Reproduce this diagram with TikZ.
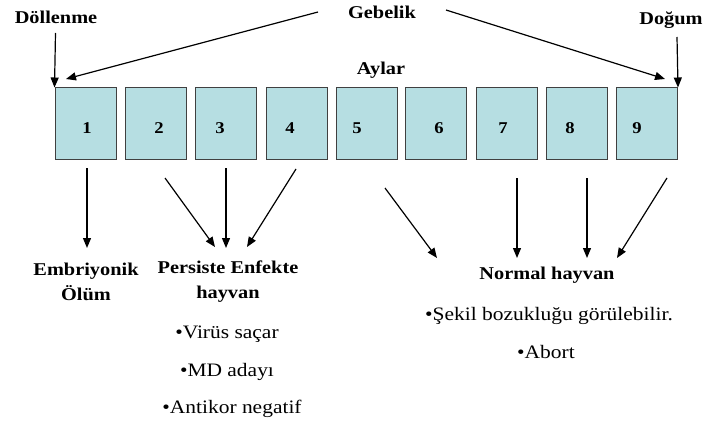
\documentclass[tikz,border=0pt]{standalone}
\usepackage{fontspec}
\setmainfont{Liberation Serif}[FakeStretch=1.13]
\usetikzlibrary{arrows.meta}
\definecolor{boxfill}{RGB}{182,222,226}
\definecolor{boxline}{RGB}{64,64,64}
\tikzset{
  monthbox/.style={draw=boxline, line width=1pt, fill=boxfill, minimum width=61pt, minimum height=71pt, inner sep=0pt},
  num/.style={font=\fontsize{16.5}{17}\selectfont\bfseries, inner sep=0pt},
  lbl/.style={font=\fontsize{18}{25}\selectfont\bfseries, inner sep=0pt, align=center},
  txt/.style={font=\fontsize{19}{20}\selectfont, inner sep=0pt},
  arr/.style={line width=1.2pt, -{Triangle[length=10pt,width=8pt]}}
}
\begin{document}
\begin{tikzpicture}[x=1pt,y=-1pt]
\useasboundingbox[fill=white] (0,0) rectangle (709,425);
% boxes
\foreach \i/\cx in {1/85.5,2/156,3/226,4/297,5/366.5,6/436,7/506.5,8/577,9/647}{
  \node[monthbox] (b\i) at (\cx,123.5) {};
}
\foreach \i/\nx in {1/87,2/159,3/220,4/290,5/357,6/439,7/503,8/570,9/637}{
  \node[num] (n\i) at (\nx,128) {\i};
}
% top labels
\node[lbl] (doll) at (56,17) {Döllenme};
\node[lbl] (gebe) at (382,12) {Gebelik};
\node[lbl] (dogu) at (671,20) {Doğum};
\node[lbl] (aylar) at (381,70) {Aylar};
% top arrows
\coordinate (dollS) at (55.5,33);
\coordinate (doguS) at (677,37);
\coordinate (gebL) at (318,12);
\coordinate (gebR) at (446,10);
\coordinate (gebLT) at (66,79);
\coordinate (gebRT) at (665,79);
\draw[arr] (dollS) -- (b1.north west);
\draw[arr] (doguS) -- (b9.north east);
\draw[arr] (gebL) -- (gebLT);
\draw[arr] (gebR) -- (gebRT);
% bottom labels
\node[lbl] (emb) at (86,282) {Embriyonik\\Ölüm};
\node[lbl] (pers) at (228,282) {Persiste Enfekte\\hayvan};
\node[txt] (t1) at (227,334) {•Virüs saçar};
\node[txt] (t2) at (227,372) {•MD adayı};
\node[txt] (t3) at (232,409) {•Antikor negatif};
\node[lbl] (norm) at (547,275) {Normal hayvan};
\node[txt] (t4) at (549,316) {•Şekil bozukluğu görülebilir.};
\node[txt] (t5) at (546,352) {•Abort};
% bottom arrows
\coordinate (a1s) at (87,168);   \coordinate (a1e) at (87,248);
\coordinate (a2s) at (165,178);  \coordinate (a2e) at (215,247);
\coordinate (a3s) at (226,168);  \coordinate (a3e) at (226,248);
\coordinate (a4s) at (296,169);  \coordinate (a4e) at (247,247);
\coordinate (a5s) at (385,188);  \coordinate (a5e) at (437,258);
\coordinate (a7s) at (517,178);  \coordinate (a7e) at (517,258);
\coordinate (a8s) at (587,178);  \coordinate (a8e) at (587,258);
\coordinate (a9s) at (667,178);  \coordinate (a9e) at (617,258);
\foreach \k in {1,2,3,4,5,7,8,9}{
  \draw[arr] (a\k s) -- (a\k e);
}
\end{tikzpicture}
\end{document}
